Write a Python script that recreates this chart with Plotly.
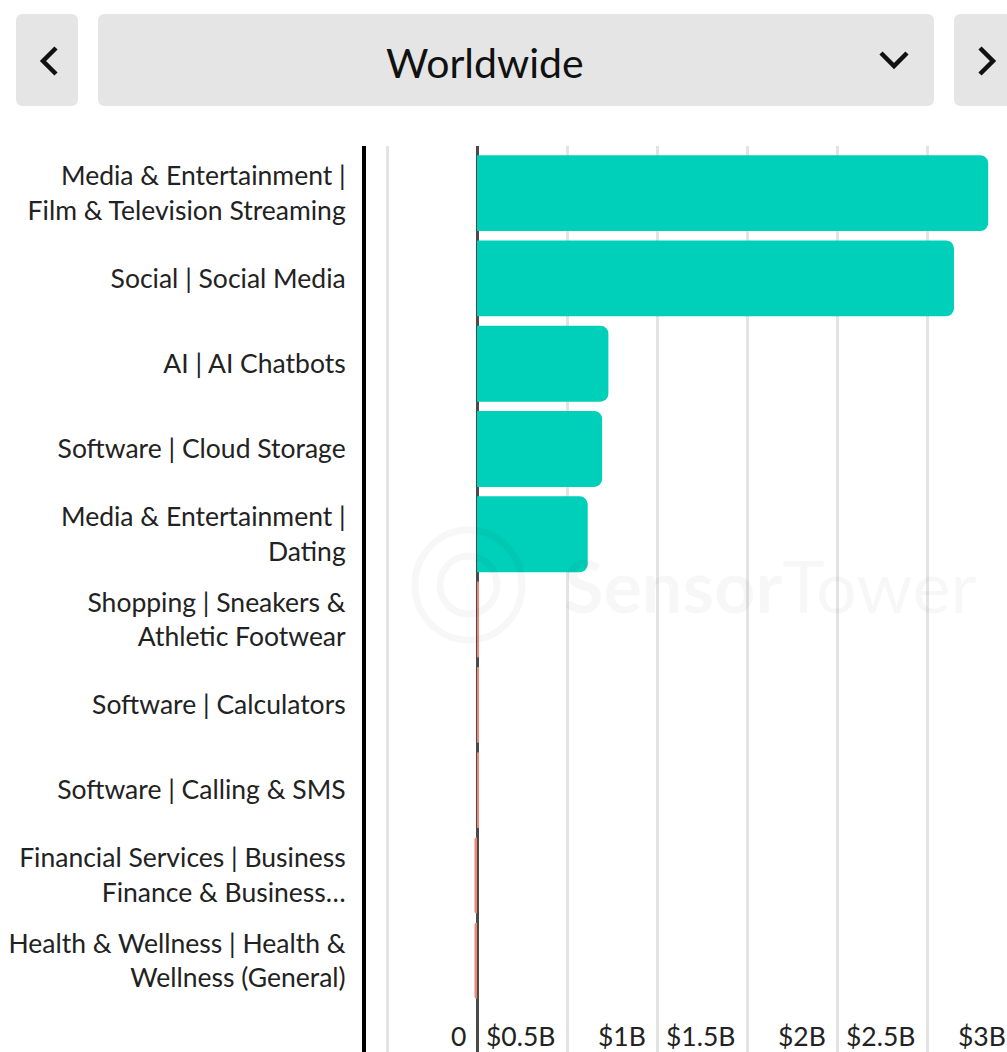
import plotly.graph_objects as go

W, H = 1007, 1052

categories = [
    "Media & Entertainment |<br>Film & Television Streaming",
    "Social | Social Media",
    "AI | AI Chatbots",
    "Software | Cloud Storage",
    "Media & Entertainment |<br>Dating",
    "Shopping | Sneakers &<br>Athletic Footwear",
    "Software | Calculators",
    "Software | Calling & SMS",
    "Financial Services | Business<br>Finance & Business…",
    "Health & Wellness | Health &<br>Wellness (General)",
]
values_b = [2.84, 2.65, 0.73, 0.695, 0.615, 0.008, 0.008, 0.008, -0.014, -0.014]
bar_colors = ["#00CFB9"] * 5 + ["#F08672"] * 5

tick_vals = [0, 0.5, 1, 1.5, 2, 2.5, 3]
tick_text = ["0", "$0.5B", "$1B", "$1.5B", "$2B", "$2.5B", "$3B"]
grid_vals = [-0.5, 0.5, 1, 1.5, 2, 2.5]

FONT = "Lato"
FS = 26.5

X_DOMAIN = [366 / W, 1]
X_RANGE = [-0.6167, 2.9444]


def px(x):
    return x / W


def py(y):
    return 1 - y / H


def xval_to_paper(v):
    # position of an x value on the paper, using the axis' own domain & range
    f = (v - X_RANGE[0]) / (X_RANGE[1] - X_RANGE[0])
    return X_DOMAIN[0] + f * (X_DOMAIN[1] - X_DOMAIN[0])


def rrect(x0, y0, x1, y1, r):
    pts = [
        f"M {px(x0 + r)},{py(y0)}",
        f"L {px(x1 - r)},{py(y0)}",
        f"Q {px(x1)},{py(y0)} {px(x1)},{py(y0 + r)}",
        f"L {px(x1)},{py(y1 - r)}",
        f"Q {px(x1)},{py(y1)} {px(x1 - r)},{py(y1)}",
        f"L {px(x0 + r)},{py(y1)}",
        f"Q {px(x0)},{py(y1)} {px(x0)},{py(y1 - r)}",
        f"L {px(x0)},{py(y0 + r)}",
        f"Q {px(x0)},{py(y0)} {px(x0 + r)},{py(y0)}",
        "Z",
    ]
    return " ".join(pts)


def polyline(points):
    return "M " + " L ".join(f"{px(x)},{py(y)}" for x, y in points)


fig = go.Figure()
fig.add_trace(
    go.Bar(
        x=values_b,
        y=categories,
        orientation="h",
        marker=dict(color=bar_colors, line=dict(width=0)),
        hoverinfo="skip",
    )
)

shapes = []
for (x0, x1) in [(16, 78), (98, 934), (954, 1020)]:
    shapes.append(dict(type="path", xref="paper", yref="paper",
                       path=rrect(x0, 14, x1, 106, 7),
                       fillcolor="#E5E5E5", line=dict(width=0), layer="below"))
for pts in [
    [(56, 48), (43, 61), (56, 74)],
    [(881, 53), (894, 66), (907, 53)],
    [(980, 48), (993, 61), (980, 74)],
]:
    shapes.append(dict(type="path", xref="paper", yref="paper", path=polyline(pts),
                       line=dict(color="#111111", width=4.5)))
shapes.append(dict(type="circle", xref="paper", yref="paper",
                   x0=px(415), x1=px(522), y0=py(530), y1=py(640),
                   line=dict(color="rgba(0,0,0,0.03)", width=7)))
shapes.append(dict(type="circle", xref="paper", yref="paper",
                   x0=px(440), x1=px(497), y0=py(556), y1=py(614),
                   line=dict(color="rgba(0,0,0,0.03)", width=7)))

annotations = [
    dict(text="Worldwide", xref="paper", yref="paper", x=px(485), y=py(62),
         showarrow=False, font=dict(family=FONT, size=41, color="#111111"),
         xanchor="center", yanchor="middle"),
    dict(text="<b>Sensor</b>Tower", xref="paper", yref="paper", x=px(770), y=py(585),
         showarrow=False, font=dict(family=FONT, size=72, color="rgba(0,0,0,0.03)"),
         xanchor="center", yanchor="middle"),
]
for v, t in zip(tick_vals, tick_text):
    annotations.append(dict(text=t, x=xval_to_paper(v), xref="paper",
                            y=py(1036), yref="paper",
                            showarrow=False, xanchor="right", yanchor="middle",
                            xshift=-9,
                            font=dict(family=FONT, size=FS, color="#222222")))

fig.update_layout(
    width=W, height=H,
    margin=dict(l=0, r=0, t=0, b=0),
    paper_bgcolor="white", plot_bgcolor="white",
    showlegend=False,
    bargap=0.11,
    barcornerradius=8,
    shapes=shapes,
    annotations=annotations,
    xaxis=dict(
        domain=X_DOMAIN,
        range=X_RANGE,
        tickvals=grid_vals,
        showticklabels=False,
        showgrid=True, gridcolor="#E3E3E3", gridwidth=2.5,
        zeroline=True, zerolinecolor="#4A4A4A", zerolinewidth=3,
        showline=False,
        fixedrange=True,
    ),
    yaxis=dict(
        domain=[0, 1 - 146 / H],
        categoryorder="array", categoryarray=categories,
        range=[10.07, -0.552],
        showgrid=False, zeroline=False,
        showline=True, linecolor="#000000", linewidth=4,
        ticks="", ticklabelstandoff=11,
        tickfont=dict(family=FONT, size=FS, color="#222222"),
        automargin=False,
        fixedrange=True,
    ),
    font=dict(family=FONT),
)

fig.write_html(
    "out.html",
    config=dict(displayModeBar=False),
    post_script="document.body.style.margin='0';document.body.style.overflow='hidden';",
)
